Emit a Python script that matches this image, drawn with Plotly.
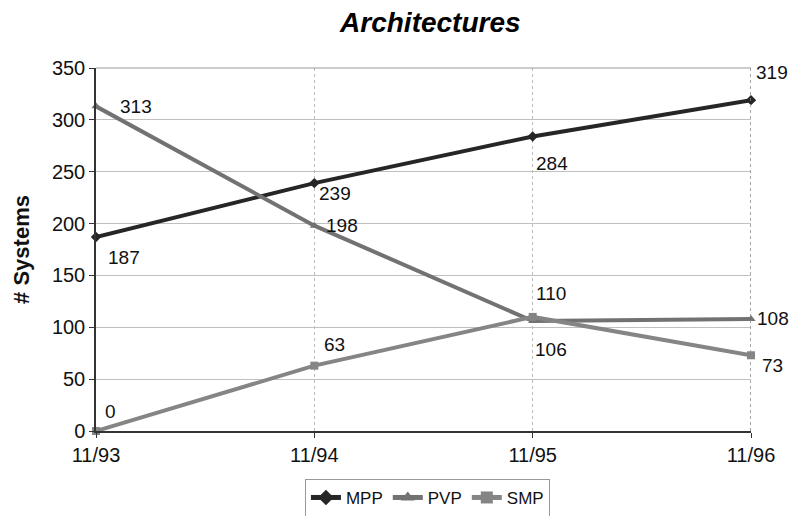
import plotly.graph_objects as go

# Systems by architecture, TOP500 lists
dates = ["11/93", "11/94", "11/95", "11/96"]
mpp = [187, 239, 284, 319]
pvp = [313, 198, 106, 108]
smp = [0, 63, 110, 73]

series = [
    ("MPP", mpp, "#262626", "diamond"),
    ("PVP", pvp, "#727272", "triangle-up"),
    ("SMP", smp, "#858585", "square"),
]

# label offsets (px) for each point's value label
offsets = {
    "MPP": [(28, -20), (21, -10), (19, -27), (21, 28)],
    "PVP": [(40, 0), (28, 0), (18, -28), (22, 0)],
    "SMP": [(14, 20), (20, 21), (18, 23), (21, -10)],
}

FONT = "Liberation Sans, Arial, sans-serif"

fig = go.Figure()
x_idx = list(range(len(dates)))
annotations = []
for name, vals, color, sym in series:
    fig.add_trace(go.Scatter(
        x=x_idx, y=vals, name=name, mode="lines+markers",
        line=dict(color=color, width=4),
        marker=dict(symbol=sym, size=8, color=color),
        cliponaxis=False,
    ))
    for i, v in enumerate(vals):
        dx, dy = offsets[name][i]
        annotations.append(dict(
            x=i, y=v, text=str(v), showarrow=False,
            xshift=dx, yshift=dy,
            font=dict(family=FONT, size=19, color="#111"),
        ))

fig.update_layout(
    width=794, height=516,
    margin=dict(l=96, r=43, t=68, b=85, autoexpand=False),
    paper_bgcolor="white", plot_bgcolor="white",
    title=dict(text="<b><i>Architectures</i></b>", x=0.542, xanchor="center",
               y=0.957, yanchor="middle",
               font=dict(family=FONT, size=28, color="#000")),
    font=dict(family=FONT, size=20, color="#111"),
    annotations=annotations,
    showlegend=True,
    legend=dict(orientation="h", x=0.506, xanchor="center", y=-0.132, yanchor="top",
                bordercolor="#999", borderwidth=1,
                font=dict(size=17), tracegroupgap=0,
                itemsizing="constant"),
    shapes=[
        dict(type="line", xref="paper", yref="paper", x0=0, x1=1, y0=1, y1=1,
             line=dict(color="#999", width=1)),
        dict(type="line", xref="x", yref="paper", x0=3, x1=3, y0=0, y1=1,
             line=dict(color="#888", width=1.5, dash="dot")),
    ],
)

fig.update_xaxes(
    range=[0, 3], tickvals=x_idx, ticktext=dates,
    showgrid=True, gridcolor="#bbb", griddash="dot", gridwidth=1,
    showline=True, linecolor="#333", linewidth=1.5,
    ticks="outside", ticklen=5, tickcolor="#333",
    zeroline=False, tickfont=dict(size=20),
)
fig.update_yaxes(
    range=[0, 350], dtick=50,
    title=dict(text="<b># Systems</b>", font=dict(size=22), standoff=16),
    showgrid=True, gridcolor="#c0c0c0", gridwidth=1,
    showline=True, linecolor="#333", linewidth=1.5,
    ticks="outside", ticklen=5, tickcolor="#333",
    zeroline=False, tickfont=dict(size=20),
)

fig.write_html("out.html")
